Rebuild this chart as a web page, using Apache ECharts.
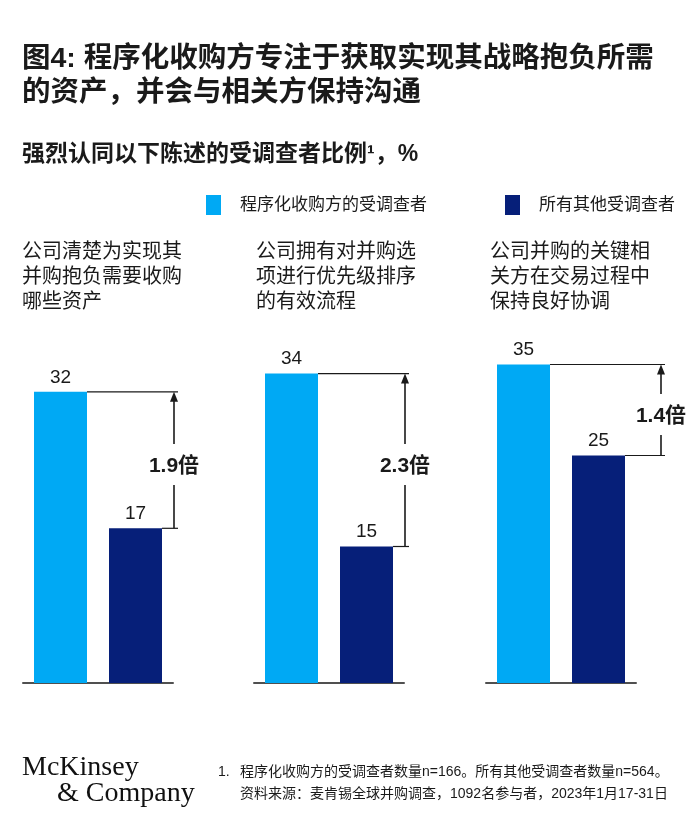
<!DOCTYPE html>
<html>
<head>
<meta charset="utf-8">
<script src="https://cdn.jsdelivr.net/npm/echarts@6/dist/echarts.min.js"></script>
<style>
  html, body { margin: 0; padding: 0; background: #fff; }
  #chart { width: 700px; height: 818px; }
</style>
</head>
<body>
<div id="chart"></div>
<script>
// data
const statements = [
  '公司清楚为实现其\n并购抱负需要收购\n哪些资产',
  '公司拥有对并购选\n项进行优先级排序\n的有效流程',
  '公司并购的关键相\n关方在交易过程中\n保持良好协调'
];
const programmatic = [32, 34, 35];
const others = [17, 15, 25];
const ratios = ['1.9倍', '2.3倍', '1.4倍'];
const seriesNames = ['程序化收购方的受调查者', '所有其他受调查者'];

// style
const LIGHT = '#00A9F4';
const DARK = '#061F79';
const INK = '#1a1a1a';
const FONT = '"Liberation Sans", "Noto Sans CJK SC", sans-serif';
const SERIF = '"Liberation Serif", "DejaVu Serif", serif';
const gridLeft = [23, 254, 486];
const arrowGap = [12, 12, 36];
const BAR_W = 53;

const chart = echarts.init(document.getElementById('chart'));

const grids = gridLeft.map(l => ({ left: l, width: 150, top: 319, height: 364 }));

const xAxes = grids.map((g, i) => ({
  type: 'category',
  gridIndex: i,
  data: seriesNames,
  axisLine: { lineStyle: { color: '#505050', width: 2 } },
  axisTick: { show: false },
  axisLabel: { show: false }
}));

const yAxes = grids.map((g, i) => ({
  type: 'value', gridIndex: i, min: 0, max: 40, show: false
}));

function ratioRenderer(i) {
  return function (params, api) {
    const top = api.coord([0, api.value(1)]);
    const bot = api.coord([1, api.value(2)]);
    const x1 = top[0] + BAR_W / 2;
    const x2 = bot[0] + BAR_W / 2;
    const xa = x2 + arrowGap[i];
    const xe = xa + 4;
    const ly = (top[1] + bot[1]) / 2 + 6;
    const thin = { stroke: INK, lineWidth: 1.2 };
    const thick = { stroke: INK, lineWidth: 1.6 };
    return {
      type: 'group',
      children: [
        { type: 'line', shape: { x1: x1, y1: top[1], x2: xe, y2: top[1] }, style: thin },
        { type: 'line', shape: { x1: x2, y1: bot[1], x2: xe, y2: bot[1] }, style: thin },
        { type: 'line', shape: { x1: xa, y1: top[1] + 8, x2: xa, y2: ly - 22 }, style: thick },
        { type: 'polygon', shape: { points: [[xa, top[1]], [xa - 4, top[1] + 10], [xa + 4, top[1] + 10]] }, style: { fill: INK } },
        { type: 'line', shape: { x1: xa, y1: ly + 19, x2: xa, y2: bot[1] }, style: thick },
        {
          type: 'text',
          style: {
            text: ratios[i], x: xa, y: ly, align: 'center', verticalAlign: 'middle',
            fontSize: 21, fontWeight: 'bold', fontFamily: FONT, fill: INK
          }
        }
      ]
    };
  };
}

const barLabel = { show: true, position: 'top', distance: 5, fontSize: 19, color: INK, fontFamily: FONT };

const series = [];
grids.forEach((g, i) => {
  series.push({
    name: seriesNames[0], type: 'bar', xAxisIndex: i, yAxisIndex: i,
    barWidth: BAR_W, barGap: '-100%',
    itemStyle: { color: LIGHT }, label: barLabel,
    data: [programmatic[i], '-']
  });
  series.push({
    name: seriesNames[1], type: 'bar', xAxisIndex: i, yAxisIndex: i,
    barWidth: BAR_W, barGap: '-100%',
    itemStyle: { color: DARK }, label: barLabel,
    data: ['-', others[i]]
  });
  series.push({
    type: 'custom', xAxisIndex: i, yAxisIndex: i, clip: false, z: 5,
    encode: { x: 0, y: [1, 2] },
    renderItem: ratioRenderer(i),
    data: [[0, programmatic[i], others[i]]]
  });
});

const legendBase = {
  icon: 'rect', itemWidth: 15, itemHeight: 20, top: 195, padding: 0, selectedMode: false,
  textStyle: { fontSize: 17, color: INK, fontFamily: FONT, padding: [0, 0, 0, 14] }
};

function txt(text, x, y, size, weight, extra) {
  return {
    type: 'text', left: x, top: y, silent: true,
    style: Object.assign({
      text: text, fontSize: size, fontWeight: weight, fontFamily: FONT, fill: INK,
      lineHeight: size + 6
    }, extra || {})
  };
}

const graphics = [
  txt('图4: 程序化收购方专注于获取实现其战略抱负所需\n的资产，并会与相关方保持沟通', 22, 42, 28.5, 'bold', { lineHeight: 34 }),
  txt('强烈认同以下陈述的受调查者比例¹，%', 22, 143, 23, 'bold', { lineHeight: 23 }),
  ...statements.map((s, i) => txt(s, [22, 256, 490][i], 240, 20, 'normal', { lineHeight: 25 })),
  txt('McKinsey', 22, 753, 28, 'normal', { fontFamily: SERIF, lineHeight: 30, fill: '#111' }),
  txt('& Company', 57, 779, 28, 'normal', { fontFamily: SERIF, lineHeight: 30, fill: '#111' }),
  txt('1.', 218, 761, 14, 'normal', { lineHeight: 22 }),
  txt('程序化收购方的受调查者数量n=166。所有其他受调查者数量n=564。\n资料来源：麦肯锡全球并购调查，1092名参与者，2023年1月17-31日', 240, 761, 14, 'normal', { lineHeight: 22 })
];

chart.setOption({
  backgroundColor: '#fff',
  animation: false,
  legend: [
    Object.assign({ data: [seriesNames[0]], left: 206 }, legendBase),
    Object.assign({ data: [seriesNames[1]], left: 505 }, legendBase)
  ],
  grid: grids,
  xAxis: xAxes,
  yAxis: yAxes,
  series: series,
  graphic: graphics
});
</script>
</body>
</html>
